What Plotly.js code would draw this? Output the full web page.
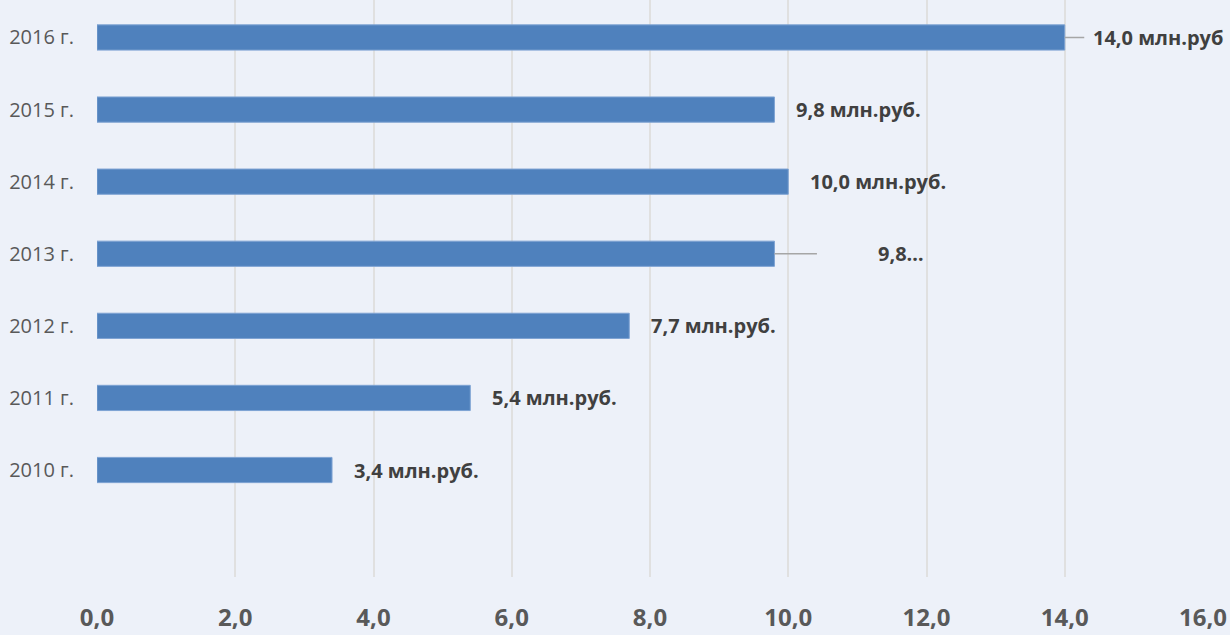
<!DOCTYPE html>
<html>
<head>
<meta charset="utf-8">
<script src="https://cdn.plot.ly/plotly-3.0.1.min.js"></script>
<style>
html,body{margin:0;padding:0;background:#edf1f9;}
#chart{width:1230px;height:635px;}
</style>
</head>
<body>
<div id="chart"></div>
<script>
const years = ["2010 г.", "2011 г.", "2012 г.", "2013 г.", "2014 г.", "2015 г.", "2016 г."];
const values = [3.4, 5.4, 7.7, 9.8, 10.0, 9.8, 14.0];
const labels = ["3,4 млн.руб.", "5,4 млн.руб.", "7,7 млн.руб.", "9,8…", "10,0 млн.руб.", "9,8 млн.руб.", "14,0 млн.руб"];
const xTickVals = [0, 2, 4, 6, 8, 10, 12, 14, 16];
const xTickText = ["0,0", "2,0", "4,0", "6,0", "8,0", "10,0", "12,0", "14,0", "16,0"];
// labels with leader lines: [index, pixel offset of text centre, gap before text]
const leader = {3: [127, 60], 6: [93, 7]};

const labelFont = {family: "Open Sans, sans-serif", size: 20, color: "#404040", weight: 700};

const annotations = years.map((y, i) => {
  const base = {x: values[i], y: y, xref: "x", yref: "y", text: "<b>" + labels[i] + "</b>", font: labelFont};
  if (leader[i]) {
    return Object.assign(base, {
      showarrow: true, arrowhead: 0, arrowwidth: 1.5, arrowcolor: "#a6a6a6",
      ax: leader[i][0], ay: 0, axref: "pixel", ayref: "pixel",
      startstandoff: leader[i][1], standoff: 0
    });
  }
  return Object.assign(base, {showarrow: false, xanchor: "left", xshift: 20});
});

const trace = {
  type: "bar",
  orientation: "h",
  x: values,
  y: years,
  width: 0.35,
  marker: {color: "#4f81bd", line: {color: "#7ea3d3", width: 1}},
  hoverinfo: "none"
};

const layout = {
  width: 1230, height: 635,
  margin: {l: 97, r: 27, t: 0, b: 58},
  paper_bgcolor: "#edf1f9",
  plot_bgcolor: "#edf1f9",
  showlegend: false,
  bargap: 0.5,
  xaxis: {
    range: [0, 16],
    tickvals: xTickVals,
    ticktext: xTickText,
    showgrid: true, gridcolor: "#e0e0e0", gridwidth: 2,
    zeroline: false, showline: false,
    ticks: "", ticklabelstandoff: 24,
    tickfont: {family: "Open Sans, sans-serif", size: 24, color: "#595959", weight: 700}
  },
  yaxis: {
    type: "category",
    categoryorder: "array",
    categoryarray: years,
    range: [-1.484, 6.52],
    showgrid: false, zeroline: false, showline: false,
    ticks: "", ticklabelstandoff: 22,
    tickfont: {family: "Open Sans, sans-serif", size: 20, color: "#595959"}
  },
  annotations: annotations
};

Plotly.newPlot("chart", [trace], layout, {staticPlot: true, displayModeBar: false});
</script>
</body>
</html>
